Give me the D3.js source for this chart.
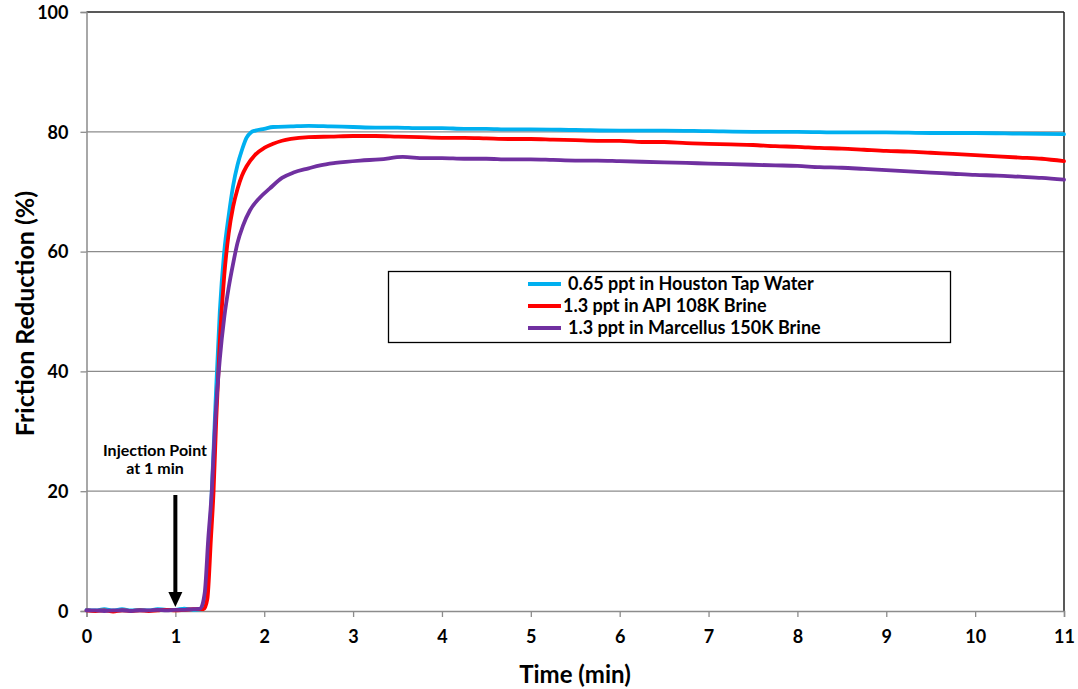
<!DOCTYPE html>
<html><head><meta charset="utf-8">
<script src="https://cdn.jsdelivr.net/npm/d3@7"></script>
<style>
body{margin:0;background:#fff;}
svg text{font-family:Lato,"Open Sans",sans-serif;font-weight:bold;fill:#000;}
</style></head>
<body><svg id="c" width="1078" height="689"></svg>
<script>
const xTicks = [0,1,2,3,4,5,6,7,8,9,10,11];
const yTicks = [0,20,40,60,80,100];
const seriesNames = ["0.65 ppt in Houston Tap Water","1.3 ppt in API 108K Brine","1.3 ppt in Marcellus 150K Brine"];
const seriesColors = ["#00B0F0","#FF0000","#7030A0"];

const tapTime = [0,0.1,0.2,0.3,0.4,0.5,0.6,0.7,0.8,0.9,1.0,1.1,1.2,1.3,1.33,1.37,1.41,1.45,1.5,1.55,1.6,1.65,1.7,1.75,1.8,1.85,1.9,2.0,2.1,2.3,2.5,2.75,3.0,3.25,3.5,3.75,4.0,4.25,4.5,4.75,5.0,5.5,6.0,6.5,7.0,7.5,8.0,8.5,9.0,9.5,10.0,10.5,11.0];
const tapFR   = [0.2,0.1,0.3,0.1,0.3,0.1,0.2,0.1,0.3,0.2,0.2,0.4,0.2,0.3,1,8,20,34,50,60,66,71,74.5,77,79,79.9,80.2,80.5,80.8,80.9,81.0,80.9,80.8,80.7,80.7,80.6,80.6,80.5,80.5,80.4,80.4,80.3,80.2,80.2,80.1,80.0,80.0,79.9,79.9,79.8,79.8,79.7,79.6];

const apiTime = [0,0.1,0.2,0.3,0.4,0.5,0.6,0.7,0.8,0.9,1.0,1.1,1.2,1.32,1.36,1.4,1.43,1.46,1.5,1.55,1.6,1.65,1.7,1.75,1.8,1.9,2.0,2.1,2.2,2.3,2.5,2.75,3.0,3.25,3.5,3.75,4.0,4.25,4.5,4.75,5.0,5.25,5.5,5.75,6.0,6.25,6.5,6.75,7.0,7.25,7.5,7.75,8.0,8.25,8.5,8.75,9.0,9.25,9.5,9.75,10.0,10.25,10.5,10.75,11.0];
const apiFR   = [0.1,0.0,0.1,-0.1,0.1,0.0,0.1,0.0,0.1,0.2,0.1,0.2,0.3,0.3,2,12,20,32,45,56,63,67.5,70.5,72.7,74.2,76.2,77.3,78.0,78.5,78.8,79.1,79.2,79.3,79.3,79.2,79.1,79.0,79.0,78.9,78.8,78.8,78.7,78.6,78.5,78.5,78.3,78.3,78.1,78.0,77.9,77.8,77.6,77.5,77.3,77.2,77.0,76.8,76.7,76.5,76.3,76.1,75.9,75.7,75.5,75.1];

const marTime = [0,0.1,0.2,0.3,0.4,0.5,0.6,0.7,0.8,0.9,1.0,1.1,1.2,1.28,1.33,1.37,1.41,1.45,1.5,1.55,1.6,1.65,1.7,1.76,1.84,1.95,2.06,2.2,2.33,2.5,2.63,2.8,3.08,3.3,3.56,3.8,4.0,4.25,4.5,4.75,5.0,5.25,5.5,5.75,6.0,6.25,6.5,6.75,7.0,7.25,7.5,7.75,8.0,8.25,8.5,8.75,9.0,9.25,9.5,9.75,10.0,10.25,10.5,10.75,11.0];
const marFR   = [0.1,0.1,0.0,0.1,0.1,0.0,0.1,0.1,0.2,0.1,0.2,0.2,0.3,0.4,3,12,20,32,42,49,54,58,61.5,64.3,66.9,69,70.5,72.3,73.2,73.9,74.4,74.8,75.2,75.4,75.8,75.6,75.6,75.5,75.5,75.4,75.4,75.3,75.2,75.2,75.1,75.0,74.9,74.8,74.7,74.6,74.5,74.4,74.3,74.1,74.0,73.8,73.6,73.4,73.2,73.0,72.8,72.7,72.5,72.3,72.0];

const allTimes = [tapTime, apiTime, marTime];
const allValues = [tapFR, apiFR, marFR];

const svg = d3.select("#c");
const L=86.5, R=1064, T=12, B=611;
const x = d3.scaleLinear().domain([0,11]).range([L,R]);
const y = d3.scaleLinear().domain([0,100]).range([B,T]);
const grey = "#8c8c8c";

svg.append("g").selectAll("line").data(yTicks.filter(d=>d>0&&d<100)).join("line")
  .attr("x1",L).attr("x2",R).attr("y1",d=>y(d)).attr("y2",d=>y(d))
  .attr("stroke",grey).attr("stroke-width",1.3);
svg.append("line").attr("x1",L).attr("x2",R).attr("y1",y(100)).attr("y2",y(100)).attr("stroke","#222").attr("stroke-width",1.5);
svg.append("line").attr("x1",R).attr("x2",R).attr("y1",T).attr("y2",B).attr("stroke","#222").attr("stroke-width",1.5);

const xAxis = svg.append("g").attr("transform",`translate(0,${B})`)
  .call(d3.axisBottom(x).tickValues(xTicks).tickSize(6).tickFormat(d3.format("d")));
const yAxis = svg.append("g").attr("transform",`translate(${L},0)`)
  .call(d3.axisLeft(y).tickValues(yTicks).tickSize(6).tickFormat(d3.format("d")));
[xAxis,yAxis].forEach(a=>{
  a.select(".domain").attr("stroke",grey).attr("stroke-width",1.5);
  a.selectAll(".tick line").attr("stroke",grey).attr("stroke-width",1.3);
  a.selectAll("text").style("font-size","18px").style("font-family","Lato, sans-serif").style("font-weight","bold").attr("fill","#000");
});
xAxis.selectAll("text").attr("dy","0").attr("y",32);
yAxis.selectAll("text").attr("x",-18).attr("dy","0.35em");

svg.append("text").attr("x",575).attr("y",683).attr("text-anchor","middle")
  .style("font-size","24px").text("Time (min)");
svg.append("text").attr("transform",`translate(34,${(T+B)/2+2}) rotate(-90)`).attr("text-anchor","middle")
  .style("font-size","25px").text("Friction Reduction (%)");

const line = d3.line().curve(d3.curveMonotoneX);
allTimes.forEach((ts,i)=>{
  const pts = ts.map((t,j)=>[x(t), y(allValues[i][j])]);
  svg.append("path").attr("d",line(pts)).attr("fill","none")
    .attr("stroke",seriesColors[i]).attr("stroke-width",3.8)
    .attr("stroke-linejoin","round").attr("stroke-linecap","round");
});

const lg = svg.append("g");
lg.append("rect").attr("x",388.5).attr("y",271.5).attr("width",562).attr("height",71)
  .attr("fill","#fff").attr("stroke","#000").attr("stroke-width",1.3);
const rowY = [284,306,328];
const textX = [568,563,568];
seriesNames.forEach((n,i)=>{
  lg.append("line").attr("x1",528).attr("x2",561).attr("y1",rowY[i]).attr("y2",rowY[i])
    .attr("stroke",seriesColors[i]).attr("stroke-width",3.8);
  lg.append("text").attr("x",textX[i]).attr("y",rowY[i]).attr("dy","0.35em")
    .style("font-size","18px").text(n);
});

svg.append("text").attr("x",155).attr("y",450).attr("dy","0.35em").attr("text-anchor","middle")
  .style("font-size","16px").text("Injection Point");
svg.append("text").attr("x",155).attr("y",468).attr("dy","0.35em").attr("text-anchor","middle")
  .style("font-size","16px").text("at 1 min");
const ax = x(1);
svg.append("line").attr("x1",ax).attr("x2",ax).attr("y1",495).attr("y2",595)
  .attr("stroke","#000").attr("stroke-width",4);
svg.append("path").attr("d",`M${ax-7},${592} L${ax+7},${592} L${ax},${607} Z`).attr("fill","#000");
</script></body></html>
